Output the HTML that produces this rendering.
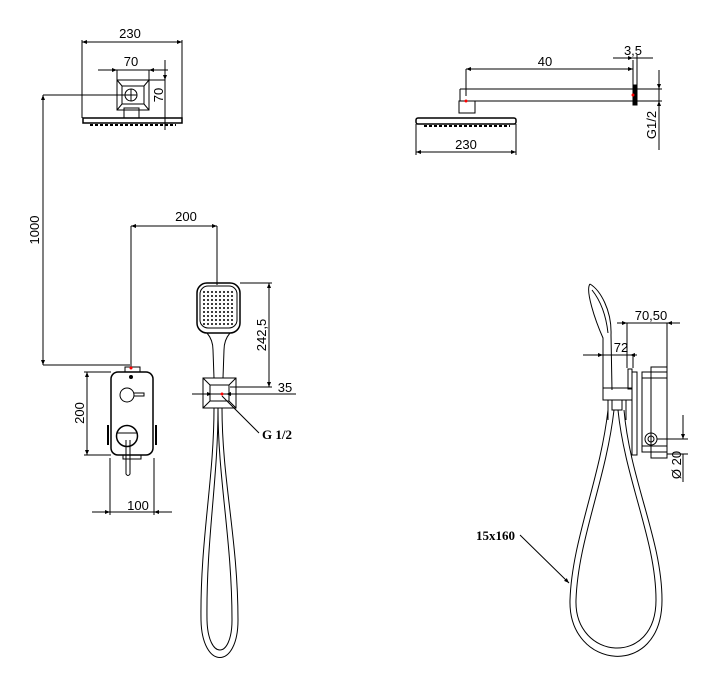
<!DOCTYPE html>
<html><head><meta charset="utf-8"><style>
html,body{margin:0;padding:0;background:#fff}
svg{display:block}
text{font-family:"Liberation Sans",sans-serif;font-size:13px;fill:#000}
.b{font-family:"Liberation Serif",serif;font-weight:bold;font-size:13px}
</style></head><body>
<svg width="720" height="693" viewBox="0 0 720 693" xmlns="http://www.w3.org/2000/svg">
<defs>
<marker id="a" viewBox="0 0 10 10" refX="10" refY="5" markerWidth="8" markerHeight="5" orient="auto-start-reverse"><path d="M0,1 L10,5 L0,9z" fill="#000"/></marker>
</defs>
<g stroke="#000" fill="none" stroke-width="1">
<!-- top-left head -->
<line x1="82" y1="40" x2="82" y2="118"/><line x1="182" y1="40" x2="182" y2="118"/>
<line x1="82" y1="42" x2="182" y2="42" marker-start="url(#a)" marker-end="url(#a)"/>
<line x1="98" y1="70" x2="168" y2="70"/>
<line x1="107" y1="70" x2="117" y2="70" marker-end="url(#a)"/><line x1="158" y1="70" x2="149" y2="70" marker-end="url(#a)"/>
<line x1="117" y1="70" x2="117" y2="80"/><line x1="149" y1="70" x2="149" y2="80"/>
<line x1="165" y1="60" x2="165" y2="130"/>
<line x1="165" y1="72" x2="165" y2="80" marker-end="url(#a)"/>
<line x1="149" y1="80" x2="165" y2="80"/>
<rect x="117" y="80" width="32" height="30"/>
<path d="M117,80 L122,86 L144,86 L149,80 M117,110 L122,104 L144,104 L149,110 M122,86 L122,104 M144,86 L144,104"/>
<circle cx="131" cy="95" r="6"/><line x1="125" y1="95" x2="137" y2="95"/><line x1="131" y1="89" x2="131" y2="101"/>
<rect x="124" y="108" width="15" height="10"/>
<rect x="83" y="118" width="99" height="5" stroke-width="1.5"/>
<line x1="90" y1="125" x2="176" y2="125" stroke-dasharray="3,2" stroke-width="2"/>
<!-- 1000 -->
<line x1="43" y1="95" x2="130" y2="95"/><line x1="43" y1="365" x2="130" y2="365"/>
<line x1="43" y1="95" x2="43" y2="365" marker-start="url(#a)" marker-end="url(#a)"/>
<!-- 200 horiz -->
<line x1="131" y1="226" x2="131" y2="368"/><line x1="217" y1="226" x2="217" y2="285"/>
<line x1="131" y1="226" x2="217" y2="226" marker-start="url(#a)" marker-end="url(#a)"/>
<!-- mixer -->
<rect x="111" y="372" width="42" height="83" rx="7" stroke-width="1.5"/>
<rect x="125" y="367" width="15" height="5"/>
<circle cx="127" cy="395" r="7"/><path d="M134,393 L144,393 L144,396 L134,396"/>
<circle cx="127" cy="436" r="10.5" stroke-width="1.5"/><line x1="117" y1="433" x2="137" y2="433"/>
<path d="M126,440 L126,474 Q128,477 130,474 L130,440"/>
<rect x="123" y="455" width="18" height="4"/>
<line x1="108" y1="425" x2="108" y2="445" stroke-width="2"/><line x1="156" y1="425" x2="156" y2="445" stroke-width="2"/>
<line x1="84" y1="372" x2="111" y2="372"/><line x1="84" y1="455" x2="111" y2="455"/>
<line x1="87" y1="372" x2="87" y2="455" marker-start="url(#a)" marker-end="url(#a)"/>
<line x1="110" y1="458" x2="110" y2="515"/><line x1="154" y1="458" x2="154" y2="515"/>
<line x1="92" y1="512" x2="172" y2="512"/>
<line x1="100" y1="512" x2="110" y2="512" marker-end="url(#a)"/><line x1="164" y1="512" x2="154" y2="512" marker-end="url(#a)"/>
<!-- hand shower -->
<rect x="197" y="283" width="43" height="50" rx="10" stroke-width="1.5"/>
<rect x="200" y="286" width="37" height="42" rx="8"/>
<path d="M207,333 Q213,340 213,350 L214,378 M230,333 Q224,340 224,350 L223,378"/>
<rect x="203" y="378" width="33" height="30"/>
<path d="M203,378 L210,385 L229,385 L236,378 M203,408 L210,401 L229,401 L236,408 M210,385 L210,401 M229,385 L229,401"/>
<line x1="240" y1="283" x2="272" y2="283"/><line x1="230" y1="387" x2="272" y2="387"/>
<line x1="269" y1="283" x2="269" y2="387" marker-start="url(#a)" marker-end="url(#a)"/>
<line x1="192" y1="394" x2="296" y2="394"/>
<line x1="202" y1="394" x2="212" y2="394" marker-end="url(#a)"/><line x1="236" y1="394" x2="226" y2="394" marker-end="url(#a)"/>
<line x1="222" y1="396" x2="259" y2="433"/>
<!-- left hose -->
<path d="M214,408 C214,480 200,540 201,620 C202,670 238,670 238,620 C238,540 222,480 222,408"/>
<path d="M218,408 C218,480 206,540 207,620 C208,660 232,660 232,620 C232,540 218,480 218,408" />
<!-- right top arm -->
<line x1="466" y1="69" x2="466" y2="96"/><line x1="633" y1="60" x2="633" y2="90"/>
<line x1="466" y1="69" x2="633" y2="69" marker-start="url(#a)" marker-end="url(#a)"/>
<line x1="637" y1="55" x2="637" y2="85"/>
<line x1="613" y1="58" x2="653" y2="58"/>
<line x1="622" y1="58" x2="633" y2="58" marker-end="url(#a)"/>
<path d="M460,89 L633,89 M466,101 L633,101 M460,89 L460,101 L466,101"/>
<rect x="633" y="85" width="4" height="20" fill="#000"/>
<path d="M637,89 L662,89 M637,101 L662,101"/>
<line x1="659" y1="70" x2="659" y2="150"/>
<line x1="659" y1="79" x2="659" y2="89" marker-end="url(#a)"/><line x1="659" y1="111" x2="659" y2="101" marker-end="url(#a)"/>
<rect x="459" y="101" width="16" height="12"/>
<rect x="416" y="118" width="100" height="6" rx="2" stroke-width="1.5"/>
<line x1="424" y1="126" x2="510" y2="126" stroke-dasharray="3,2" stroke-width="2"/>
<line x1="416" y1="124" x2="416" y2="155"/><line x1="516" y1="124" x2="516" y2="155"/>
<line x1="416" y1="152" x2="516" y2="152" marker-start="url(#a)" marker-end="url(#a)"/>
<!-- right side mixer -->
<path d="M590,284 C600,290 612,310 611,335 L612,390 M590,284 C585,290 595,320 603,338 L603,388"/>
<path d="M592,290 C600,300 606,315 608,333"/>
<rect x="603" y="388" width="29" height="12"/>
<rect x="632" y="372" width="5" height="83"/>
<rect x="628" y="369" width="4" height="20"/>
<rect x="642" y="372" width="25" height="80"/>
<rect x="651" y="367" width="16" height="91"/>
<line x1="642" y1="378" x2="667" y2="378"/><line x1="642" y1="446" x2="667" y2="446"/>
<circle cx="651" cy="439" r="6"/><circle cx="651" cy="439" r="3"/>
<line x1="657" y1="439" x2="688" y2="439"/><line x1="667" y1="454" x2="688" y2="454"/>
<line x1="683" y1="415" x2="683" y2="439" marker-end="url(#a)"/>
<line x1="683" y1="454" x2="683" y2="482"/>
<line x1="617" y1="323" x2="680" y2="323"/>
<line x1="617" y1="323" x2="627" y2="323" marker-end="url(#a)"/><line x1="680" y1="323" x2="667" y2="323" marker-end="url(#a)"/>
<line x1="627" y1="323" x2="627" y2="368"/><line x1="667" y1="323" x2="667" y2="367"/>
<line x1="583" y1="355" x2="637" y2="355"/>
<line x1="590" y1="355" x2="603" y2="355" marker-end="url(#a)"/><line x1="637" y1="355" x2="630" y2="355" marker-end="url(#a)"/>
<line x1="633" y1="355" x2="633" y2="368"/>
<path d="M608,400 L608,420 M626,400 L626,420 M612,400 L612,410 L622,410 L622,400"/>
<!-- right hose -->
<path d="M608,410 C600,480 572,540 570,600 C568,670 662,680 662,600 C662,540 630,480 624,410"/>
<path d="M614,410 C606,480 578,540 576,600 C574,660 656,668 656,600 C656,540 625,480 618,410"/>
<line x1="520" y1="535" x2="569" y2="583" marker-end="url(#a)"/>
</g>
<circle cx="131" cy="368" r="1.5" fill="red"/><circle cx="466" cy="101" r="1.5" fill="red"/><circle cx="633" cy="95" r="1.5" fill="red"/><circle cx="222" cy="394" r="1.5" fill="red"/>
<g fill="#000">
<circle cx="131" cy="377" r="2"/>
</g>
<g fill="#000">
<g id="d"><circle cx="204" cy="292" r="1"/><circle cx="208" cy="292" r="1"/><circle cx="212" cy="292" r="1"/><circle cx="216" cy="292" r="1"/><circle cx="220" cy="292" r="1"/><circle cx="224" cy="292" r="1"/><circle cx="228" cy="292" r="1"/><circle cx="232" cy="292" r="1"/></g>
<use href="#d" y="4"/><use href="#d" y="8"/><use href="#d" y="12"/><use href="#d" y="16"/><use href="#d" y="20"/><use href="#d" y="24"/><use href="#d" y="28"/><use href="#d" y="32"/>
</g>
<text x="130" y="38" text-anchor="middle">230</text>
<text x="131" y="66" text-anchor="middle">70</text>
<text transform="translate(163,95) rotate(-90)" text-anchor="middle">70</text>
<text transform="translate(39,230) rotate(-90)" text-anchor="middle">1000</text>
<text x="186" y="221" text-anchor="middle">200</text>
<text transform="translate(84,413) rotate(-90)" text-anchor="middle">200</text>
<text x="138" y="510" text-anchor="middle">100</text>
<text transform="translate(266,335) rotate(-90)" text-anchor="middle">242,5</text>
<text x="285" y="392" text-anchor="middle">35</text>
<text x="262" y="439" class="b">G 1/2</text>
<text x="545" y="66" text-anchor="middle">40</text>
<text x="633" y="55" text-anchor="middle">3,5</text>
<text transform="translate(656,125) rotate(-90)" text-anchor="middle">G1/2</text>
<text x="466" y="149" text-anchor="middle">230</text>
<text x="651" y="320" text-anchor="middle">70,50</text>
<text x="621" y="352" text-anchor="middle">72</text>
<text transform="translate(681,465) rotate(-90)" text-anchor="middle">Ø 20</text>
<text x="476" y="540" class="b">15x160</text>
</svg>
</body></html>
